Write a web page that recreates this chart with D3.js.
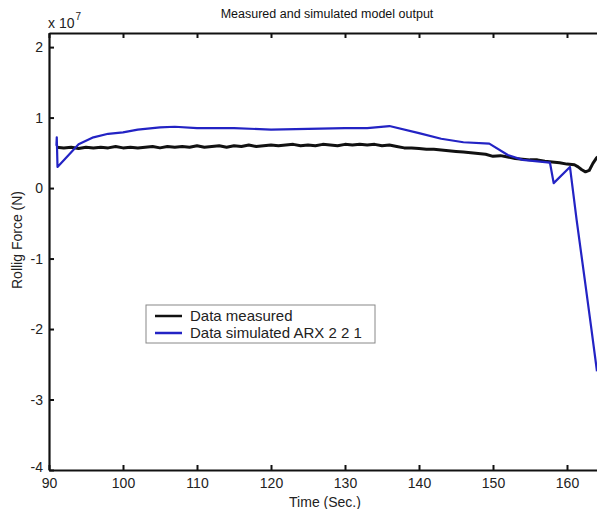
<!DOCTYPE html>
<html>
<head>
<meta charset="utf-8">
<script src="https://cdn.jsdelivr.net/npm/d3@7"></script>
<style>
  body { margin: 0; background: #fff; }
  svg { display: block; font-family: "Liberation Sans", Arial, sans-serif; }
</style>
</head>
<body>
<div id="chart"></div>
<script>
// values in units of 1e7 N
var measuredTime = [91, 92, 93, 94, 95, 96, 97, 98, 99, 100, 101, 102, 103, 104, 105, 106, 107, 108, 109, 110,
  111, 112, 113, 114, 115, 116, 117, 118, 119, 120, 121, 122, 123, 124, 125, 126, 127, 128, 129, 130,
  131, 132, 133, 134, 135, 136, 137, 138, 139, 140, 141, 142, 143, 144, 145, 146, 147, 148, 149, 150,
  151, 152, 153, 154, 155, 156, 157, 158, 159, 160, 161, 161.5, 162, 162.5, 163, 163.5, 164, 164.5];
var measuredForce = [0.58, 0.57, 0.58, 0.56, 0.58, 0.57, 0.58, 0.57, 0.59, 0.57, 0.58, 0.57, 0.58, 0.59, 0.57, 0.59, 0.58, 0.59, 0.58, 0.60,
  0.58, 0.59, 0.60, 0.58, 0.60, 0.59, 0.61, 0.59, 0.60, 0.61, 0.60, 0.61, 0.62, 0.60, 0.61, 0.60, 0.62, 0.61, 0.60, 0.62,
  0.61, 0.62, 0.61, 0.62, 0.60, 0.61, 0.59, 0.57, 0.57, 0.56, 0.55, 0.55, 0.54, 0.53, 0.52, 0.51, 0.50, 0.49, 0.48, 0.45,
  0.46, 0.44, 0.42, 0.41, 0.40, 0.40, 0.38, 0.37, 0.36, 0.34, 0.33, 0.30, 0.26, 0.23, 0.25, 0.35, 0.43, 0.46];

var simTime = [91.0, 91.05, 91.15, 92.5, 94, 96, 98, 100, 102, 105, 107, 110, 115, 120, 125, 130, 133, 136,
  140, 143, 146, 149.5, 152, 154, 157.7, 158.2, 160.4, 161.3, 162.4, 163.3, 164.05];
var simForce = [0.60, 0.72, 0.30, 0.45, 0.62, 0.72, 0.77, 0.79, 0.83, 0.86, 0.87, 0.85, 0.85, 0.83, 0.84, 0.85, 0.85, 0.88,
  0.78, 0.70, 0.65, 0.63, 0.47, 0.40, 0.36, 0.07, 0.30, -0.45, -1.30, -2.00, -2.60];

var xTicks = [90, 100, 110, 120, 130, 140, 150, 160];
var yTicks = [-4, -3, -2, -1, 0, 1, 2];
var seriesNames = ["Data measured", "Data simulated ARX 2 2 1"];
var seriesColors = ["#111111", "#2323c4"];

var W = 597, H = 509;
var mLeft = 49, mTop = 33, mBottom = 470;

var x = d3.scaleLinear().domain([90, 170]).range([mLeft, mLeft + 80 * 7.4]);
var y = d3.scaleLinear().domain([-4, 2.2]).range([mBottom, mTop]);

var svg = d3.select('#chart').append('svg')
  .attr('width', W).attr('height', H);

svg.append('defs').append('clipPath').attr('id', 'clip')
  .append('rect').attr('x', mLeft).attr('y', mTop)
  .attr('width', W - mLeft).attr('height', mBottom - mTop);

var line = d3.line()
  .x(function(d) { return x(d[0]); })
  .y(function(d) { return y(d[1]); });

var measured = measuredTime.map(function(t, i) { return [t, measuredForce[i]]; });
var simulated = simTime.map(function(t, i) { return [t, simForce[i]]; });

var plot = svg.append('g').attr('clip-path', 'url(#clip)');
plot.append('path').datum(measured)
  .attr('d', line).attr('fill', 'none')
  .attr('stroke', seriesColors[0]).attr('stroke-width', 3).attr('stroke-linejoin', 'round');
plot.append('path').datum(simulated)
  .attr('d', line).attr('fill', 'none')
  .attr('stroke', seriesColors[1]).attr('stroke-width', 2.2).attr('stroke-linejoin', 'round');

var plain = function(d) { return String(d); };

// axes
var xAxis = svg.append('g')
  .attr('transform', 'translate(0,' + mBottom + ')')
  .call(d3.axisBottom(x).tickValues(xTicks).tickFormat(plain).tickSizeInner(-5).tickSizeOuter(0).tickPadding(8));
var xTop = svg.append('g')
  .attr('transform', 'translate(0,' + mTop + ')')
  .call(d3.axisTop(x).tickValues(xTicks).tickSizeInner(-5).tickSizeOuter(0).tickFormat(''));
var yAxis = svg.append('g')
  .attr('transform', 'translate(' + mLeft + ',0)')
  .call(d3.axisLeft(y).tickValues(yTicks).tickFormat(plain).tickSizeInner(-5).tickSizeOuter(0).tickPadding(6));

[xAxis, xTop, yAxis].forEach(function(a) {
  a.select('.domain').attr('stroke', '#111').attr('stroke-width', 2.2);
  a.selectAll('.tick line').attr('stroke', '#111').attr('stroke-width', 2);
  a.selectAll('.tick text').attr('fill', '#222').style('font-size', '14px');
});
yAxis.selectAll('.tick text').filter(function(d) { return d === -4; }).attr('dy', '0.1em');

svg.append('text').attr('x', 48).attr('y', 28)
  .style('font-size', '14px').attr('fill', '#222')
  .text('x 10')
  .append('tspan').attr('dy', -8).attr('dx', 1).style('font-size', '10px').text('7');

svg.append('text').attr('x', 327).attr('y', 18).attr('text-anchor', 'middle')
  .style('font-size', '12.5px').attr('fill', '#111')
  .text('Measured and simulated model output');

svg.append('text').attr('x', 325).attr('y', 507).attr('text-anchor', 'middle')
  .style('font-size', '14px').attr('fill', '#222')
  .text('Time (Sec.)');

svg.append('text').attr('transform', 'translate(22,240) rotate(-90)')
  .attr('text-anchor', 'middle')
  .style('font-size', '14px').attr('fill', '#222')
  .text('Rollig Force (N)');

// legend
var legend = svg.append('g').attr('transform', 'translate(146,305)');
legend.append('rect').attr('width', 229).attr('height', 38)
  .attr('fill', '#fff').attr('stroke', '#888').attr('stroke-width', 1);
seriesNames.forEach(function(name, i) {
  var ly = 11 + i * 17;
  legend.append('line').attr('x1', 9).attr('x2', 36).attr('y1', ly).attr('y2', ly)
    .attr('stroke', seriesColors[i]).attr('stroke-width', 2.5);
  legend.append('text').attr('x', 44).attr('y', ly + 5)
    .style('font-size', '15px').attr('fill', '#222').text(name);
});
</script>
</body>
</html>
